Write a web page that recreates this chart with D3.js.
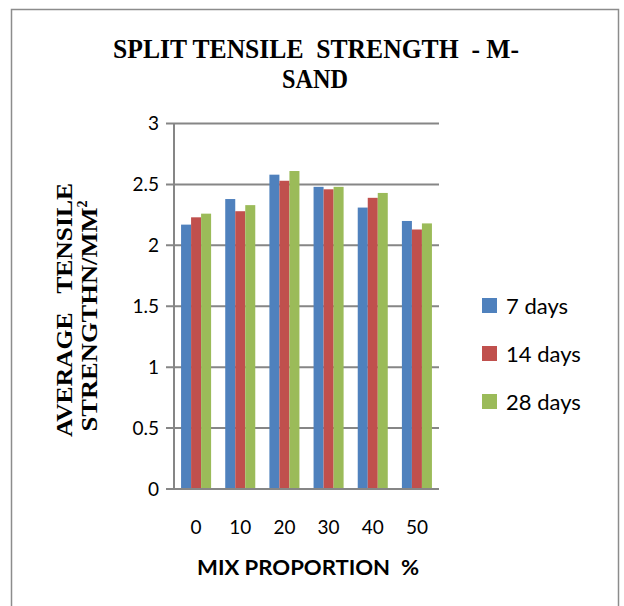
<!DOCTYPE html>
<html>
<head>
<meta charset="utf-8">
<script src="https://cdn.jsdelivr.net/npm/d3@7"></script>
<style>
  html, body { margin: 0; padding: 0; background: #fff; }
  svg { display: block; }
</style>
</head>
<body>
<svg id="chart" width="624" height="606"></svg>
<script>
// Split tensile strength of M-sand mixes at three curing ages
const mixProportions = ["0", "10", "20", "30", "40", "50"];
const seriesNames = ["7 days", "14 days", "28 days"];
const days7  = [2.17, 2.38, 2.58, 2.48, 2.31, 2.20];
const days14 = [2.23, 2.28, 2.53, 2.46, 2.39, 2.13];
const days28 = [2.26, 2.33, 2.61, 2.48, 2.43, 2.18];
const yTicks = [0, 0.5, 1, 1.5, 2, 2.5, 3];
const seriesColors = ["#4f81bd", "#c0504d", "#9bbb59"];

const seriesValues = [days7, days14, days28];
const svg = d3.select("#chart");
const sans = "Lato, 'Open Sans', sans-serif";
const serif = "'Liberation Serif', 'Times New Roman', serif";

// outer frame
svg.append("rect")
  .attr("x", 11.5).attr("y", 9.5)
  .attr("width", 607).attr("height", 620)
  .attr("fill", "#fff")
  .attr("stroke", "#8c8c8c").attr("stroke-width", 1.5);

const plot = { left: 174, right: 439, top: 123.5, bottom: 489 };

const x0 = d3.scaleBand()
  .domain(mixProportions)
  .range([plot.left, plot.right])
  .paddingInner(0.32)
  .paddingOuter(0.16);

const x1 = d3.scaleBand()
  .domain(seriesNames)
  .range([0, x0.bandwidth()]);

const y = d3.scaleLinear()
  .domain([0, 3])
  .range([plot.bottom, plot.top]);

const axisColor = "#868686";

// horizontal gridlines with outward ticks
svg.append("g")
  .selectAll("line")
  .data(yTicks)
  .join("line")
  .attr("x1", plot.left - 8)
  .attr("x2", plot.right)
  .attr("y1", d => y(d))
  .attr("y2", d => y(d))
  .attr("stroke", axisColor)
  .attr("stroke-width", 2);

// y tick labels
svg.append("g")
  .selectAll("text")
  .data(yTicks)
  .join("text")
  .attr("x", 159)
  .attr("y", d => y(d))
  .attr("dy", "0.36em")
  .attr("text-anchor", "end")
  .attr("font-family", sans)
  .attr("font-size", 19)
  .attr("fill", "#000")
  .text(d => d);

// bars
const groups = svg.append("g")
  .selectAll("g")
  .data(mixProportions)
  .join("g")
  .attr("transform", d => `translate(${x0(d)},0)`);

groups.selectAll("rect")
  .data((d, i) => seriesNames.map((s, j) => ({ series: s, value: seriesValues[j][i], color: seriesColors[j] })))
  .join("rect")
  .attr("x", d => x1(d.series))
  .attr("y", d => y(d.value))
  .attr("width", x1.bandwidth())
  .attr("height", d => y(0) - y(d.value))
  .attr("fill", d => d.color);

// vertical axis line
svg.append("line")
  .attr("x1", plot.left).attr("x2", plot.left)
  .attr("y1", plot.top).attr("y2", plot.bottom)
  .attr("stroke", axisColor).attr("stroke-width", 2);

// baseline redrawn on top of bars
svg.append("line")
  .attr("x1", plot.left - 8).attr("x2", plot.right)
  .attr("y1", y(0)).attr("y2", y(0))
  .attr("stroke", axisColor).attr("stroke-width", 2);

// category labels
svg.append("g")
  .selectAll("text")
  .data(mixProportions)
  .join("text")
  .attr("x", d => x0(d) + x0.bandwidth() / 2)
  .attr("y", 534)
  .attr("text-anchor", "middle")
  .attr("font-family", sans)
  .attr("font-size", 19)
  .attr("fill", "#000")
  .text(d => d);

// x axis title
svg.append("text")
  .attr("x", 308).attr("y", 575)
  .attr("text-anchor", "middle")
  .attr("font-family", sans)
  .attr("font-weight", "bold")
  .attr("font-size", 20)
  .attr("textLength", 222)
  .attr("lengthAdjust", "spacingAndGlyphs")
  .text("MIX PROPORTION\u00a0 %");

// chart title, two lines
svg.append("text")
  .attr("x", 316).attr("y", 58)
  .attr("text-anchor", "middle")
  .attr("font-family", serif)
  .attr("font-weight", "bold")
  .attr("font-size", 27)
  .attr("textLength", 406)
  .attr("lengthAdjust", "spacingAndGlyphs")
  .text("SPLIT TENSILE\u00a0 STRENGTH\u00a0 - M-");
svg.append("text")
  .attr("x", 315).attr("y", 88)
  .attr("text-anchor", "middle")
  .attr("font-family", serif)
  .attr("font-weight", "bold")
  .attr("font-size", 27)
  .attr("textLength", 66)
  .attr("lengthAdjust", "spacingAndGlyphs")
  .text("SAND");

// y axis title, two rotated lines
svg.append("text")
  .attr("transform", "translate(72,310) rotate(-90)")
  .attr("text-anchor", "middle")
  .attr("font-family", serif)
  .attr("font-weight", "bold")
  .attr("font-size", 24)
  .attr("textLength", 254)
  .attr("lengthAdjust", "spacingAndGlyphs")
  .text("AVERAGE\u00a0\u00a0 TENSILE");
const yTitle2 = svg.append("text")
  .attr("transform", "translate(97,316) rotate(-90)")
  .attr("text-anchor", "middle")
  .attr("font-family", serif)
  .attr("font-weight", "bold")
  .attr("font-size", 24);
yTitle2.append("tspan")
  .attr("textLength", 224)
  .attr("lengthAdjust", "spacingAndGlyphs")
  .text("STRENGTHN/MM");
yTitle2.append("tspan").attr("font-size", 14).attr("dy", -10).text("2");

// legend
const legend = svg.append("g")
  .selectAll("g")
  .data(seriesNames)
  .join("g")
  .attr("transform", (d, i) => `translate(482,${298 + i * 48})`);
legend.append("rect")
  .attr("width", 15).attr("height", 15)
  .attr("fill", (d, i) => seriesColors[i]);
legend.append("text")
  .attr("x", 24).attr("y", 15.5)
  .attr("font-family", sans)
  .attr("font-size", 22)
  .attr("fill", "#000")
  .text(d => d);
</script>
</body>
</html>
